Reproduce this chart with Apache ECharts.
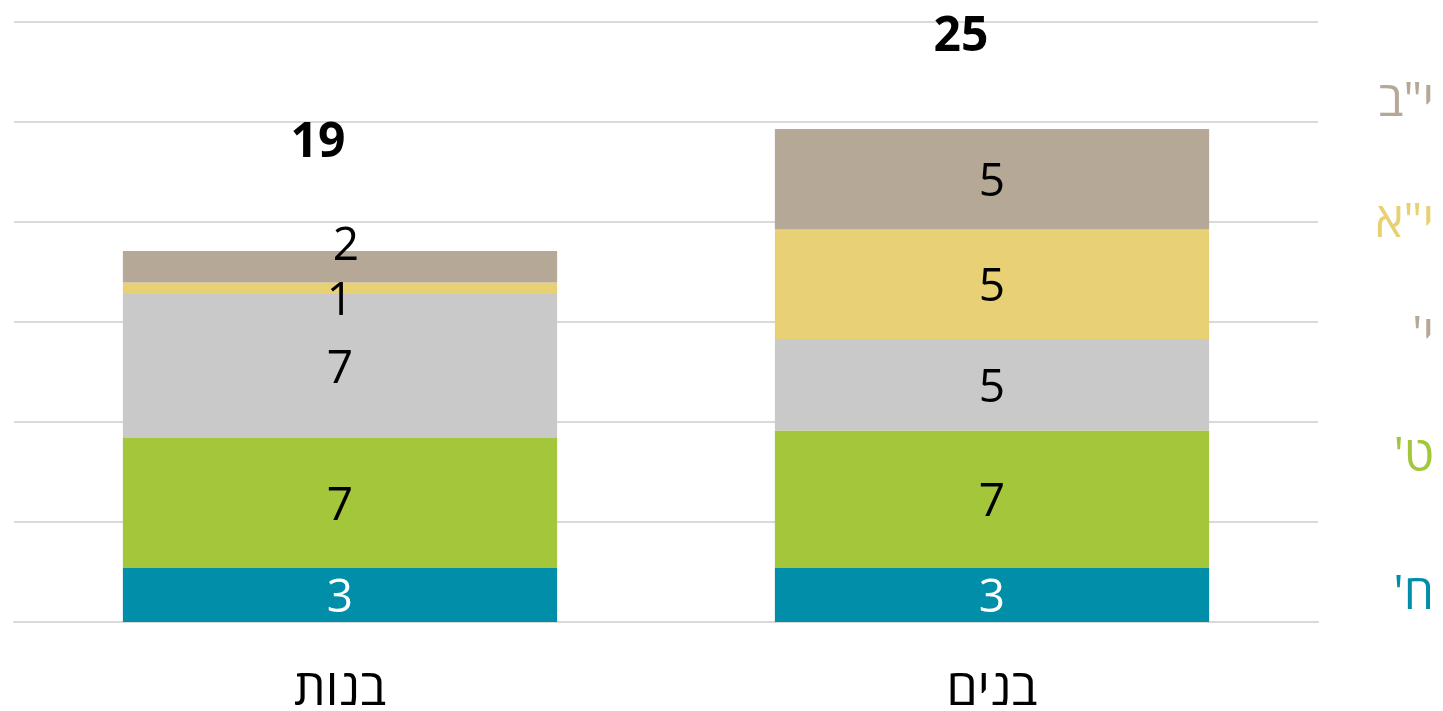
<!DOCTYPE html>
<html>
<head>
<meta charset="utf-8">
<script src="https://cdn.jsdelivr.net/npm/echarts@6/dist/echarts.min.js"></script>
<style>
html,body{margin:0;padding:0;background:#fff;}
#chart{width:1443px;height:711px;}
</style>
</head>
<body>
<div id="chart" dir="rtl"></div>
<script>
// Categories (x axis)
const categories = ['בנות', 'בנים'];
// Series names (grades), bottom to top
const seriesNames = ["ח'", "ט'", "י'", 'י"א', 'י"ב'];
const seriesColors = ['#018EA8', '#A3C63B', '#C9C9C9', '#E8D174', '#B5A896'];
const legendColors = ['#018EA8', '#A3C63B', '#B5A896', '#E8D174', '#B5A896'];
// Values (per series: [בנות, בנים])
const valsGrade8  = [2.7, 2.7];
const valsGrade9  = [6.5, 6.87];
const valsGrade10 = [7.2, 4.58];
const valsGrade11 = [0.58, 5.48];
const valsGrade12 = [1.57, 5.02];
// Data labels as printed
const lblGrade8  = ['3', '3'];
const lblGrade9  = ['7', '7'];
const lblGrade10 = ['7', '5'];
const lblGrade11 = ['1', '5'];
const lblGrade12 = ['2', '5'];
// Totals and their label heights (in value units)
const totals = ['19', '25'];
const totalLabelY = [24.05, 29.35];
// Y axis ticks
const yMin = 0, yMax = 30, yInterval = 5;

const allVals = [valsGrade8, valsGrade9, valsGrade10, valsGrade11, valsGrade12];
const allLbls = [lblGrade8, lblGrade9, lblGrade10, lblGrade11, lblGrade12];
// per-item label offsets [dx, dy] (small segments shifted)
const labelOffsets = [
  [[0,4],[0,4]],
  [[0,4],[0,4]],
  [[0,4],[0,4]],
  [[0,14],[0,4]],
  [[6,-20],[0,4]]
];
const totalOffsets = [[-22, 2], [-31, 2]];
const legendTops = [569, 431, 310, 197, 76];

const FONT = '"Open Sans", "Liberation Sans", "DejaVu Sans", sans-serif';

const chart = echarts.init(document.getElementById('chart'), null, {renderer: 'canvas'});

const series = seriesNames.map((name, i) => ({
  name: name,
  type: 'bar',
  stack: 'total',
  barWidth: '66.6%',
  itemStyle: {color: seriesColors[i]},
  emphasis: {disabled: true},
  data: allVals[i].map((v, j) => ({
    value: v,
    label: {
      show: true,
      position: 'inside',
      offset: labelOffsets[i][j],
      formatter: () => allLbls[i][j],
      color: i === 0 ? '#ffffff' : '#000000',
      fontSize: 46,
      fontFamily: FONT
    }
  }))
}));

series.push({
  name: 'totals',
  type: 'scatter',
  symbolSize: 0,
  silent: true,
  itemStyle: {color: '#000000', opacity: 1},
  emphasis: {disabled: true},
  data: totalLabelY.map((y, j) => ({
    value: [j, y],
    label: {
      show: true,
      position: 'inside',
      offset: totalOffsets[j],
      formatter: () => totals[j],
      color: '#000000',
      opacity: 1,
      textBorderWidth: 0,
      fontSize: 48,
      fontWeight: 'bold',
      fontFamily: FONT
    }
  }))
});

const legends = seriesNames.map((n, i) => ({
  orient: 'vertical',
  right: 4,
  top: legendTops[i],
  padding: 0,
  icon: 'none',
  itemWidth: 0,
  itemHeight: 0,
  align: 'right',
  selectedMode: false,
  textStyle: {fontSize: 48, fontFamily: FONT, lineHeight: 52, padding: 0},
  data: [{name: n, textStyle: {color: legendColors[i]}}]
}));

const option = {
  animation: false,
  backgroundColor: '#fff',
  grid: {left: 14, right: 125, top: 22, bottom: 89, containLabel: false, outerBoundsMode: 'none'},
  legend: legends,
  xAxis: {
    type: 'category',
    data: categories,
    axisLine: {show: true, lineStyle: {color: '#D9D9D9', width: 2}},
    axisTick: {show: false},
    axisLabel: {fontSize: 50, color: '#000', fontFamily: FONT, margin: 44}
  },
  yAxis: {
    type: 'value',
    min: yMin,
    max: yMax,
    interval: yInterval,
    axisLine: {show: false},
    axisTick: {show: false},
    axisLabel: {show: false},
    splitLine: {lineStyle: {color: '#D9D9D9', width: 2}}
  },
  series: series
};

chart.setOption(option);
</script>
</body>
</html>
